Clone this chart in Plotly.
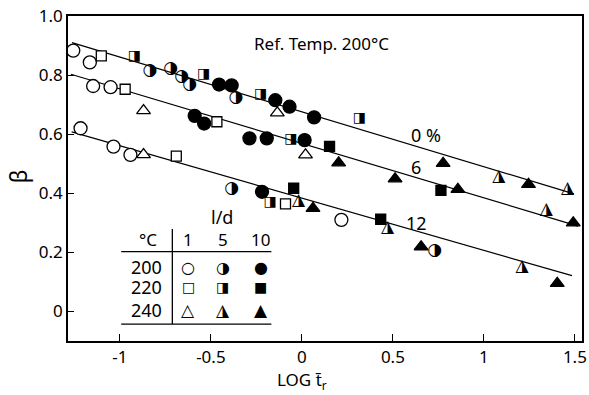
import plotly.graph_objects as go

# ---- data (LOG t_r , beta) ----
# 200 C  (l/d = 1, 5, 10)
oc_x = [-1.256, -1.165, -1.147, -1.051, -1.216, -1.035, -0.942, 0.217]
oc_y = [0.883, 0.843, 0.763, 0.759, 0.620, 0.558, 0.530, 0.310]
hc_x = [-0.835, -0.721, -0.661, -0.616, -0.363, -0.386, 0.730]
hc_y = [0.815, 0.823, 0.795, 0.766, 0.725, 0.417, 0.205]
fc_x = [-0.455, -0.386, -0.146, -0.068, 0.067, -0.589, -0.537, -0.288, -0.193, 0.015, -0.219]
fc_y = [0.768, 0.765, 0.715, 0.693, 0.657, 0.662, 0.636, 0.586, 0.586, 0.580, 0.405]
# 220 C
os_x = [-1.102, -0.971, -0.690, -0.467, -0.090]
os_y = [0.865, 0.752, 0.526, 0.642, 0.364]
hs_x = [-0.921, -0.540, -0.227, 0.316, -0.061, -0.174]
hs_y = [0.862, 0.802, 0.734, 0.654, 0.581, 0.368]
fs_x = [0.152, 0.764, -0.045, 0.433]
fs_y = [0.559, 0.410, 0.417, 0.312]
# 240 C
ot_x = [-0.870, -0.870, -0.135, 0.020]
ot_y = [0.680, 0.531, 0.672, 0.530]
ht_x = [-0.018, 0.471, 1.082, 1.460, 1.343, 1.209]
ht_y = [0.375, 0.283, 0.456, 0.416, 0.344, 0.152]
ft_x = [0.061, 0.202, 0.512, 0.776, 1.245, 0.857, 1.491, 0.655, 1.403]
ft_y = [0.349, 0.503, 0.449, 0.501, 0.430, 0.413, 0.300, 0.219, 0.095]

# fitted master lines (end points) and their labels
line_labels = ["0 %", "6", "12"]
line_x = [[-1.263, 1.495], [-1.269, 1.517], [-1.265, 1.484]]
line_y = [[0.910, 0.398], [0.803, 0.289], [0.608, 0.121]]
label_x = [0.684, 0.626, 0.630]
label_y = [0.597, 0.490, 0.299]

x_ticks = [-1, -0.5, 0, 0.5, 1, 1.5]
x_ticktext = ["-1", "-0.5", "0", "0.5", "1", "1.5"]
y_ticks = [0, 0.2, 0.4, 0.6, 0.8, 1.0]
y_ticktext = ["0", "0.2", "0.4", "0.6", "0.8", "1.0"]

# legend table contents
temps = ["200", "220", "240"]
ratios = ["1", "5", "10"]
glyphs = [["○", "◑", "●"], ["□", "◨", "■"], ["△", "◮", "▲"]]
glyph_sizes = [16, 14, 17]

FONT = "Noto Sans"
SYM = "DejaVu Sans"

fig = go.Figure()

for lx, ly in zip(line_x, line_y):
    fig.add_trace(go.Scatter(x=lx, y=ly, mode="lines",
                             line=dict(color="black", width=1.2), hoverinfo="skip"))

def mk(x, y, symbol, size, filled):
    fig.add_trace(go.Scatter(
        x=x, y=y, mode="markers",
        marker=dict(symbol=symbol, size=size,
                    color="black" if filled else "white",
                    line=dict(color="black", width=1.3))))

def half(x, y, glyph, size):
    fig.add_trace(go.Scatter(
        x=x, y=y, mode="text", text=[glyph] * len(x),
        textposition="middle center",
        textfont=dict(family=SYM, size=size, color="black")))

mk(oc_x, oc_y, "circle", 13, False)
mk(fc_x, fc_y, "circle", 13, True)
half(hc_x, hc_y, "◑", 17)
mk(os_x, os_y, "square", 10, False)
mk(fs_x, fs_y, "square", 10, True)
half(hs_x, hs_y, "◨", 14)
mk(ot_x, ot_y, "triangle-up", 12, False)
mk(ft_x, ft_y, "triangle-up", 12, True)
half(ht_x, ht_y, "◮", 17)

def A(x, y, text, size, ref="paper", family=FONT, xanchor="center", **kw):
    d = dict(x=x, y=y, xref="x" if ref == "data" else "paper",
             yref="y" if ref == "data" else "paper", text=text, showarrow=False,
             xanchor=xanchor, yanchor="middle",
             font=dict(family=family, size=size, color="black"))
    d.update(kw)
    return d

ann = []
for t, xx, yy in zip(line_labels, label_x, label_y):
    ann.append(A(xx, yy, t, 18, ref="data"))
ann.append(A(0.107, 0.907, "Ref. Temp. 200°C", 17, ref="data"))
ann.append(A(0.455, -0.12, "LOG t̄<sub>r</sub>", 17))
ann.append(A(-0.098, 0.505, "β", 23, textangle=-90))

# legend table
col_x = [0.234, 0.301, 0.375]
row_y = [0.227, 0.165, 0.095]
ann.append(A(0.299, 0.382, "l/d", 18))
ann.append(A(0.155, 0.311, "°C", 17))
for r, cx in zip(ratios, col_x):
    ann.append(A(cx, 0.311, r, 17))
for i, (t, ry) in enumerate(zip(temps, row_y)):
    ann.append(A(0.187, ry, t, 18, xanchor="right"))
    for j, cx in enumerate(col_x):
        ann.append(A(cx, ry, glyphs[i][j], glyph_sizes[i], family=SYM))

shapes = [
    dict(type="line", xref="paper", yref="paper", x0=0.1035, x1=0.3956, y0=0.275, y1=0.275,
         line=dict(color="black", width=1.3)),
    dict(type="line", xref="paper", yref="paper", x0=0.1035, x1=0.3956, y0=0.052, y1=0.052,
         line=dict(color="black", width=1.3)),
    dict(type="line", xref="paper", yref="paper", x0=0.203, x1=0.203, y0=0.052, y1=0.345,
         line=dict(color="black", width=1.3)),
]

fig.update_layout(
    width=589, height=395,
    margin=dict(l=68, r=2, t=16, b=54),
    paper_bgcolor="white", plot_bgcolor="white",
    showlegend=False,
    annotations=ann, shapes=shapes,
    xaxis=dict(range=[-1.285, 1.539], tickvals=x_ticks, ticktext=x_ticktext,
               ticks="inside", ticklen=7, tickwidth=1.3, tickcolor="black",
               showline=True, linecolor="black", linewidth=1.6, mirror=True,
               showgrid=False, zeroline=False, ticklabeloverflow="allow",
               tickfont=dict(family=FONT, size=17, color="black")),
    yaxis=dict(range=[-0.1, 1.0], tickvals=y_ticks, ticktext=y_ticktext,
               ticks="inside", ticklen=6, tickwidth=1.3, tickcolor="black",
               showline=True, linecolor="black", linewidth=1.6, mirror=True,
               showgrid=False, zeroline=False,
               tickfont=dict(family=FONT, size=17, color="black")),
)

fig.write_html("out.html")
